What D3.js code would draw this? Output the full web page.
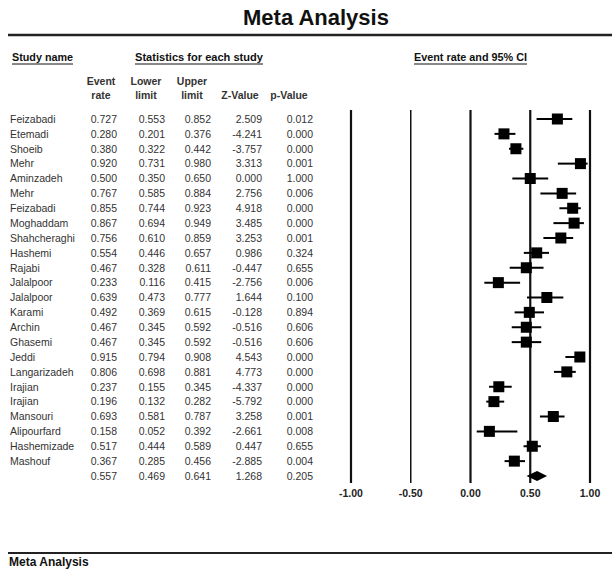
<!DOCTYPE html>
<html>
<head>
<meta charset="utf-8">
<title>Meta Analysis</title>
<style>
  body { margin: 0; background: #fff; }
  svg { display: block; font-family: "Liberation Sans", Arial, sans-serif; }
</style>
</head>
<body>
<svg></svg>
<script src="https://d3js.org/d3.v7.min.js"></script>
<script>
// study data
var studies = ["Feizabadi", "Etemadi", "Shoeib", "Mehr", "Aminzadeh", "Mehr", "Feizabadi",
  "Moghaddam", "Shahcheraghi", "Hashemi", "Rajabi", "Jalalpoor", "Jalalpoor", "Karami",
  "Archin", "Ghasemi", "Jeddi", "Langarizadeh", "Irajian", "Irajian", "Mansouri",
  "Alipourfard", "Hashemizade", "Mashouf"];
var eventRate = [0.727, 0.280, 0.380, 0.920, 0.500, 0.767, 0.855, 0.867, 0.756, 0.554, 0.467,
  0.233, 0.639, 0.492, 0.467, 0.467, 0.915, 0.806, 0.237, 0.196, 0.693, 0.158, 0.517, 0.367];
var lowerLimit = [0.553, 0.201, 0.322, 0.731, 0.350, 0.585, 0.744, 0.694, 0.610, 0.446, 0.328,
  0.116, 0.473, 0.369, 0.345, 0.345, 0.794, 0.698, 0.155, 0.132, 0.581, 0.052, 0.444, 0.285];
var upperLimit = [0.852, 0.376, 0.442, 0.980, 0.650, 0.884, 0.923, 0.949, 0.859, 0.657, 0.611,
  0.415, 0.777, 0.615, 0.592, 0.592, 0.908, 0.881, 0.345, 0.282, 0.787, 0.392, 0.589, 0.456];
var zValue = ["2.509", "-4.241", "-3.757", "3.313", "0.000", "2.756", "4.918", "3.485", "3.253",
  "0.986", "-0.447", "-2.756", "1.644", "-0.128", "-0.516", "-0.516", "4.543", "4.773",
  "-4.337", "-5.792", "3.258", "-2.661", "0.447", "-2.885"];
var pValue = ["0.012", "0.000", "0.000", "0.001", "1.000", "0.006", "0.000", "0.000", "0.001",
  "0.324", "0.655", "0.006", "0.100", "0.894", "0.606", "0.606", "0.000", "0.000", "0.000",
  "0.000", "0.001", "0.008", "0.655", "0.004"];
// pooled summary
var summary = { rate: 0.557, lower: 0.469, upper: 0.641, z: "1.268", p: "0.205" };
var axisTicks = [-1, -0.5, 0, 0.5, 1];
var tickLabels = ["-1.00", "-0.50", "0.00", "0.50", "1.00"];

var W = 612, H = 582;
var svg = d3.select("svg").attr("width", W).attr("height", H);

var rows = studies.map(function(s, i) {
  return { name: s, rate: eventRate[i], lower: lowerLimit[i], upper: upperLimit[i], z: zValue[i], p: pValue[i] };
});
var allRows = rows.concat([{ name: "", rate: summary.rate, lower: summary.lower, upper: summary.upper, z: summary.z, p: summary.p, pooled: true }]);

var x = d3.scaleLinear().domain([-1, 1]).range([351, 590]);
var y = d3.scalePoint().domain(d3.range(allRows.length)).range([119, 476]);

// title + rules
svg.append("text").attr("x", 316).attr("y", 25).attr("text-anchor", "middle")
  .style("font-size", "22px").style("font-weight", "bold").attr("fill", "#111").text("Meta Analysis");
svg.append("line").attr("x1", 8).attr("x2", W).attr("y1", 35).attr("y2", 35)
  .attr("stroke", "#222").attr("stroke-width", 2.5);
svg.append("line").attr("x1", 8).attr("x2", W).attr("y1", 553).attr("y2", 553)
  .attr("stroke", "#222").attr("stroke-width", 2);
svg.append("text").attr("x", 9).attr("y", 566).style("font-size", "12px").style("font-weight", "bold")
  .attr("fill", "#111").text("Meta Analysis");

// underlined section headers
var heads = [{ t: "Study name", x: 12, w: 61 }, { t: "Statistics for each study", x: 135, w: 128 },
  { t: "Event rate and 95% CI", x: 414, w: 113 }];
heads.forEach(function(h) {
  svg.append("text").attr("x", h.x).attr("y", 61).style("font-size", "10px").style("font-weight", "bold")
    .attr("fill", "#111").attr("textLength", h.w).attr("lengthAdjust", "spacingAndGlyphs").text(h.t);
  svg.append("line").attr("x1", h.x).attr("x2", h.x + h.w).attr("y1", 64).attr("y2", 64)
    .attr("stroke", "#111").attr("stroke-width", 1);
});

// column headers
var colHeads = [{ l1: "Event", l2: "rate", c: 101 }, { l1: "Lower", l2: "limit", c: 146 },
  { l1: "Upper", l2: "limit", c: 192 }, { l1: "", l2: "Z-Value", c: 240 }, { l1: "", l2: "p-Value", c: 289 }];
colHeads.forEach(function(h) {
  var g = svg.append("g").attr("text-anchor", "middle").style("font-size", "10.5px")
    .style("font-weight", "bold").attr("fill", "#333");
  g.append("text").attr("x", h.c).attr("y", 85).text(h.l1);
  g.append("text").attr("x", h.c).attr("y", 99).text(h.l2);
});

// table body
var colRight = [117, 165, 211, 262, 313];
var fmt = d3.format(".3f");
var row = svg.append("g").selectAll("g").data(allRows).enter().append("g")
  .attr("transform", function(d, i) { return "translate(0," + (y(i) + 3.8) + ")"; })
  .style("font-size", "10.5px").attr("fill", "#333");
row.append("text").attr("x", 10).text(function(d) { return d.name; });
row.each(function(d) {
  var vals = [fmt(d.rate), fmt(d.lower), fmt(d.upper), d.z, d.p];
  var sel = d3.select(this);
  vals.forEach(function(v, k) {
    sel.append("text").attr("x", colRight[k]).attr("text-anchor", "end").text(v);
  });
});

// reference lines
svg.append("g").selectAll("line").data(axisTicks).enter().append("line")
  .attr("x1", function(d) { return x(d); }).attr("x2", function(d) { return x(d); })
  .attr("y1", 110).attr("y2", 483).attr("stroke", "#111")
  .attr("stroke-width", function(d) { return d === -0.5 ? 1.5 : 2.2; });
svg.append("g").selectAll("text").data(axisTicks).enter().append("text")
  .attr("x", function(d) { return x(d); }).attr("y", 497).attr("text-anchor", "middle")
  .style("font-size", "10.5px").style("font-weight", "bold").attr("fill", "#222")
  .text(function(d, i) { return tickLabels[i]; });

// CI lines + squares
var plot = svg.append("g");
plot.selectAll("line.ci").data(rows).enter().append("line").attr("class", "ci")
  .attr("x1", function(d) { return x(d.lower); }).attr("x2", function(d) { return x(d.upper); })
  .attr("y1", function(d, i) { return y(i); }).attr("y2", function(d, i) { return y(i); })
  .attr("stroke", "#000").attr("stroke-width", 2);
var sq = 11;
plot.selectAll("rect").data(rows).enter().append("rect")
  .attr("x", function(d) { return x(d.rate) - sq / 2; })
  .attr("y", function(d, i) { return y(i) - sq / 2; })
  .attr("width", sq).attr("height", sq).attr("fill", "#000");

// pooled diamond
var yi = y(allRows.length - 1);
plot.append("path")
  .attr("d", "M" + x(summary.lower) + "," + yi + "L" + x(summary.rate) + "," + (yi - 5) +
    "L" + x(summary.upper) + "," + yi + "L" + x(summary.rate) + "," + (yi + 5) + "Z")
  .attr("fill", "#000");
</script>
</body>
</html>
